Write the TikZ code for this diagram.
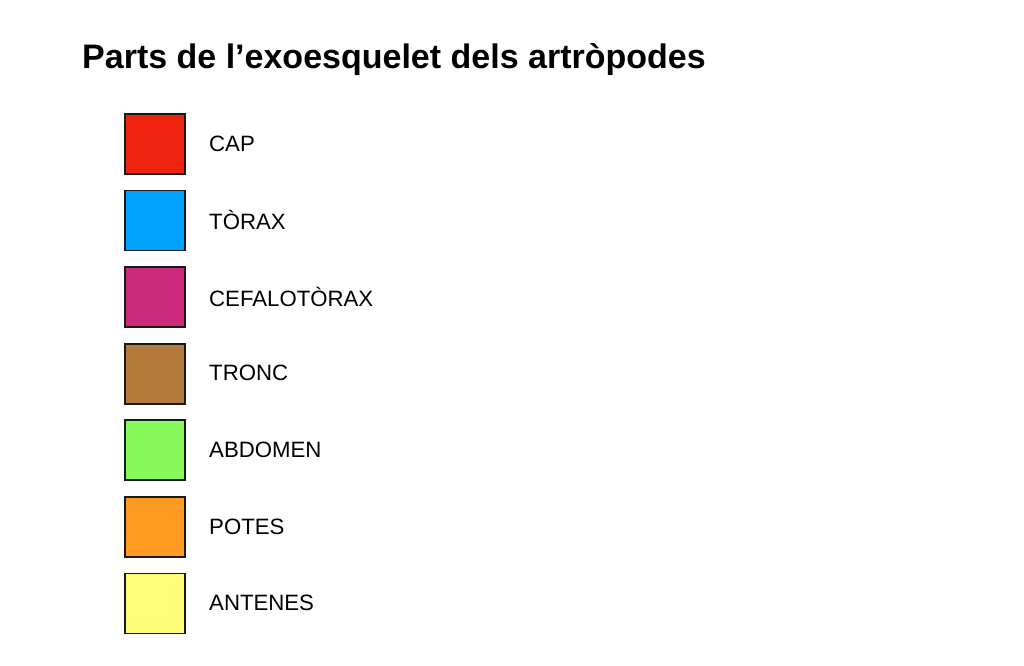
\documentclass[tikz,border=0pt]{standalone}
\usepackage{fontspec}
\setmainfont{Liberation Sans}
\definecolor{cred}{HTML}{EF2410}
\definecolor{cblue}{HTML}{00A2FF}
\definecolor{cmag}{HTML}{CB2A7B}
\definecolor{cbrown}{HTML}{B27B3B}
\definecolor{cgreen}{HTML}{88FA5C}
\definecolor{corange}{HTML}{FF9A23}
\definecolor{cyellow}{HTML}{FFFC79}
\begin{document}
\begin{tikzpicture}[x=1pt,y=-1pt,
  swatch/.style={draw=black!90,line width=1.8pt,minimum width=60pt,minimum height=60pt,inner sep=0pt,anchor=north west},
  lab/.style={anchor=west,inner sep=0pt,font=\fontsize{22.2}{25}\selectfont}]
\useasboundingbox[fill=white] (0,0) rectangle (1024,665);
\node[anchor=base west,inner sep=0pt,font=\fontsize{34}{40}\selectfont\bfseries] (title) at (82,68) {Parts de l’exoesquelet dels artròpodes};
\foreach \n/\c/\t [count=\i from 0] in {cap/cred/CAP,tor/cblue/TÒRAX,cef/cmag/CEFALOTÒRAX,tro/cbrown/TRONC,abd/cgreen/ABDOMEN,pot/corange/POTES,ant/cyellow/ANTENES}{
  \node[swatch,fill=\c] (s\n) at (124,113+76.6*\i) {};
  \node[lab] (l\n) at (209,143.5+76.6*\i) {\t};
}
\end{tikzpicture}
\end{document}
